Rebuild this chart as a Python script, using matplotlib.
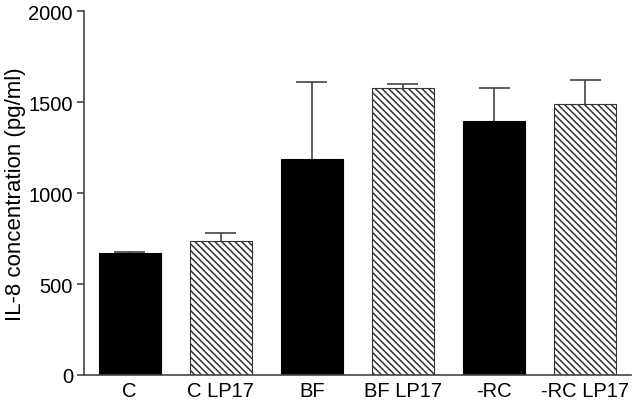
import numpy as np
import matplotlib.pyplot as plt

plt.rcParams['font.family'] = ['Liberation Sans', 'DejaVu Sans']
plt.rcParams['hatch.linewidth'] = 1.1
plt.rcParams['hatch.color'] = '#222222'

# ======================================
# Data
# ======================================

groups = ["C", "C LP17", "BF", "BF LP17", "-RC", "-RC LP17"]
means = [668, 735, 1190, 1579, 1394, 1491]
errors = [10, 43, 420, 23, 183, 133]
hatched = [False, True, False, True, False, True]

# ======================================
# Plot
# ======================================

fig = plt.figure(figsize=(6.34, 4.06), dpi=100)
ax = fig.add_axes([0.1325, 0.074, 0.8625, 0.896])

x = np.arange(len(groups))
means = np.array(means)
errors = np.array(errors)
width = 0.68

for i in range(len(groups)):
    if hatched[i]:
        ax.bar(x[i], means[i], width=width, color="white", edgecolor="#333333",
               linewidth=0.8, hatch="\\" * 5, zorder=2)
    else:
        ax.bar(x[i], means[i], width=width, color="black", edgecolor="black",
               linewidth=0.8, zorder=2)

# upper error bars only
ax.vlines(x, means, means + errors, color="#444444", linewidth=1.2, zorder=1)
ax.hlines(means + errors, x - width / 4, x + width / 4, color="#444444",
          linewidth=1.2, zorder=1)

ax.set_xlim(-0.5, 5.5)
ax.set_ylim(0, 2000)
ax.set_yticks([0, 500, 1000, 1500, 2000])
ax.set_xticks(x)
ax.set_xticklabels(groups)

ax.spines["top"].set_visible(False)
ax.spines["right"].set_visible(False)
ax.spines["left"].set_color("#444444")
ax.spines["bottom"].set_color("#444444")
ax.spines["left"].set_linewidth(1.2)
ax.spines["bottom"].set_linewidth(1.2)

ax.tick_params(axis="y", length=5, width=1.2, color="#444444", labelsize=14.5, pad=3)
ax.tick_params(axis="x", length=0, labelsize=14.5, pad=4)

ax.set_ylabel("IL-8 concentration (pg/ml)", fontsize=16, labelpad=2)

plt.savefig("out.png", dpi=100)
plt.close()
